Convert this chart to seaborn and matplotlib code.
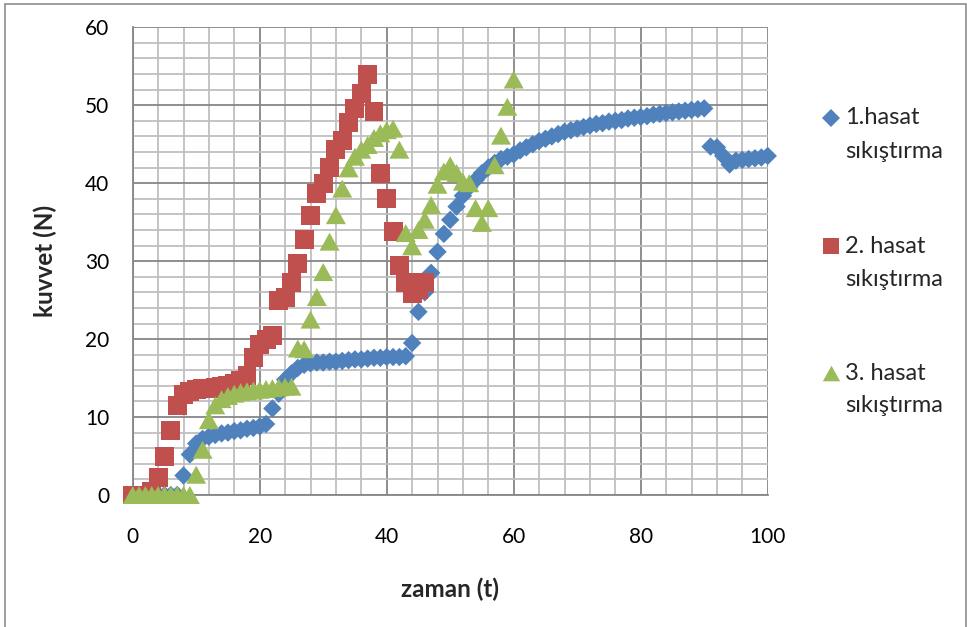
import matplotlib
matplotlib.use("Agg")
import matplotlib.pyplot as plt
import seaborn as sns
import pandas as pd
from matplotlib.lines import Line2D
from matplotlib.patches import Rectangle
from matplotlib.markers import MarkerStyle
from matplotlib.ticker import MultipleLocator

# --- measurements: force (N) against time (t) for three harvests ---
t1 = list(range(0, 101))
f1 = [0, 0, 0, 0, 0, 0, 0, 0, 2.5, 5.2,
      6.6, 7.2, 7.5, 7.7, 7.9, 8.0, 8.2, 8.3, 8.5, 8.6,
      8.8, 9.1, 11.1, 13.0, 14.8, 15.6, 16.3, 16.7, 16.9, 17.0,
      17.0, 17.1, 17.1, 17.2, 17.3, 17.4, 17.4, 17.5, 17.6, 17.6,
      17.7, 17.7, 17.7, 17.8, 19.5, 23.5, 26.0, 28.5, 31.2, 33.5,
      35.3, 37.0, 38.4, 39.5, 40.4, 41.3, 42.0, 42.6, 43.1, 43.4,
      43.7, 44.2, 44.6, 45.0, 45.4, 45.7, 46.0, 46.3, 46.6, 46.8,
      47.0, 47.2, 47.4, 47.6, 47.7, 47.9, 48.0, 48.1, 48.3, 48.4,
      48.5, 48.6, 48.8, 48.9, 49.0, 49.1, 49.2, 49.3, 49.4, 49.5,
      49.6, 44.7, 44.6, 43.5, 42.4, 42.9, 43.0, 43.1, 43.2, 43.3,
      43.5]

t2 = list(range(0, 47))
f2 = [0, 0, 0, 0.5, 2.3, 4.9, 8.3, 11.5, 12.9, 13.3,
      13.5, 13.6, 13.7, 13.8, 13.9, 14.1, 14.3, 14.7, 15.3, 17.6,
      19.3, 20.0, 20.4, 25.0, 25.3, 27.2, 29.7, 32.8, 35.9, 38.7,
      40.0, 42.0, 44.3, 45.5, 47.8, 49.6, 51.5, 53.9, 49.2, 41.3,
      38.1, 33.8, 29.5, 27.2, 25.9, 26.3, 27.2]

t3 = list(range(0, 61))
f3 = [0, 0, 0, 0, 0, 0, 0, 0, 0, 0,
      2.6, 5.8, 9.6, 11.5, 12.3, 12.7, 13.0, 13.2, 13.3, 13.4,
      13.5, 13.6, 13.7, 13.8, 13.9, 13.9, 18.8, 18.7, 22.5, 25.4,
      28.6, 32.5, 35.9, 39.3, 41.9, 43.4, 44.3, 44.9, 45.8, 46.4,
      46.8, 47.0, 44.3, 33.6, 31.9, 34.0, 35.3, 37.2, 39.8, 41.5,
      42.3, 41.3, 40.2, 40.0, 36.8, 34.9, 36.8, 42.3, 46.1, 49.8,
      53.3]

labels = ["1.hasat\nsıkıştırma", "2. hasat\nsıkıştırma", "3. hasat\nsıkıştırma"]
colors = ["#4F81BD", "#C0504D", "#9BBB59"]

sns.set_style("white")
plt.rcParams["font.family"] = ["Lato", "DejaVu Sans"]

W, H = 967, 627
fig = plt.figure(figsize=(W / 100, H / 100), dpi=100)
ax = fig.add_axes([132.7 / W, (H - 495) / H, 635 / W, 467.7 / H])

tri = MarkerStyle([(-1, -0.9), (1, -0.9), (0, 0.9)])
series = [
    (pd.DataFrame({"t": t1, "F": f1}), "D", 88, colors[0]),
    (pd.DataFrame({"t": t2, "F": f2}), "s", 187, colors[1]),
    (pd.DataFrame({"t": t3, "F": f3}), tri, 207, colors[2]),
]
for i, (d, m, s, c) in enumerate(series):
    sns.scatterplot(data=d, x="t", y="F", marker=m, s=s, color=c,
                    edgecolor="none", linewidth=0, ax=ax,
                    clip_on=False, zorder=3 + i, legend=False)

ax.set_xlim(0, 100)
ax.set_ylim(0, 60)
ax.xaxis.set_major_locator(MultipleLocator(20))
ax.xaxis.set_minor_locator(MultipleLocator(4))
ax.yaxis.set_major_locator(MultipleLocator(10))
ax.yaxis.set_minor_locator(MultipleLocator(2))

major_c, minor_c = "#868686", "#BFBFBF"
ax.grid(which="minor", color=minor_c, linewidth=1.3, zorder=0)
ax.grid(which="major", color=major_c, linewidth=1.3, zorder=1)
ax.set_axisbelow(True)
for side in ["top", "right"]:
    ax.spines[side].set_visible(False)
for side in ["left", "bottom"]:
    ax.spines[side].set_color(major_c)
    ax.spines[side].set_linewidth(1.3)

ax.tick_params(which="major", direction="out", length=5, width=1.3,
               color=major_c, labelsize=15, labelcolor="black")
ax.tick_params(axis="y", which="major", pad=12)
ax.tick_params(axis="x", which="major", pad=18)
ax.tick_params(which="minor", length=0)

ax.set_xlabel("zaman (t)", fontsize=17.5, fontweight="bold", labelpad=22)
ax.set_ylabel("kuvvet (N)", fontsize=17.5, fontweight="bold", labelpad=20)

# legend on the right, marker beside the first line of each entry
leg_y = [118, 246, 373]
leg_markers = ["D", "s", tri]
leg_sizes = [9, 12, 12.5]
for y, lab, m, ms, c in zip(leg_y, labels, leg_markers, leg_sizes, colors):
    fig.add_artist(Line2D([831 / W], [1 - y / H], marker=m, markersize=ms,
                          color=c, markeredgewidth=0, linestyle="none",
                          transform=fig.transFigure))
    first, second = lab.split("\n")
    fig.text(845 / W, 1 - y / H, first, fontsize=17, va="center", ha="left")
    fig.text(845 / W, 1 - (y + 33) / H, second, fontsize=17, va="center", ha="left")

# outer frame of the chart area
fig.add_artist(Rectangle((5 / W, -0.02), 961 / W, 1 - 4 / H + 0.02,
                         transform=fig.transFigure, fill=False,
                         edgecolor="#8C8C8C", linewidth=1.2))

fig.savefig("out.png", dpi=100)
